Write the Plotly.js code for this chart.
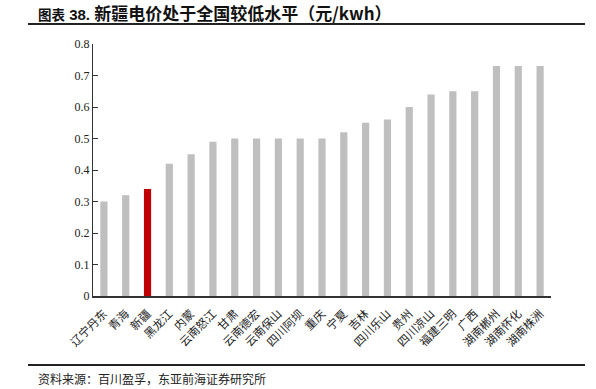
<!DOCTYPE html>
<html>
<head>
<meta charset="utf-8">
<script src="https://cdn.plot.ly/plotly-3.0.1.min.js"></script>
<style>html,body{margin:0;padding:0;background:#fff;}#chart{width:596px;height:389px;}</style>
</head>
<body>
<div id="chart"></div>
<script>
const categories = ["辽宁丹东","青海","新疆","黑龙江","内蒙","云南怒江","甘肃","云南德宏","云南保山","四川阿坝","重庆","宁夏","吉林","四川乐山","贵州","四川凉山","福建三明","广西","湖南郴州","湖南怀化","湖南株洲"];
const prices = [0.30,0.32,0.34,0.42,0.45,0.49,0.50,0.50,0.50,0.50,0.50,0.52,0.55,0.56,0.60,0.64,0.65,0.65,0.73,0.73,0.73];
const highlight = "新疆";
const yTicks = [0,0.1,0.2,0.3,0.4,0.5,0.6,0.7,0.8];
const yTickText = ["0","0.1","0.2","0.3","0.4","0.5","0.6","0.7","0.8"];
const titleText = "<b><span style='font-size:13.5px'>图表</span><span style='font-family:Liberation Sans;font-size:15px'> 38. </span>新疆电价处于全国较低水平（元/kwh）</b>";
const sourceText = "资料来源：百川盈孚，东亚前海证券研究所";

const colors = categories.map(c => c === highlight ? "#C00000" : "#BFBFBF");

const W = 596, H = 389;
const m = {l: 93, r: 45, t: 44, b: 93};
const pw = W - m.l - m.r, ph = H - m.t - m.b;
const px = x => (x - m.l) / pw;
const py = y => (H - m.b - y) / ph;

const trace = {
  type: "bar",
  x: categories,
  y: prices,
  marker: {color: colors},
  width: 0.33,
  hoverinfo: "skip"
};

const layout = {
  width: W, height: H,
  margin: m,
  paper_bgcolor: "#fff",
  plot_bgcolor: "#fff",
  showlegend: false,
  xaxis: {
    type: "category",
    showgrid: false,
    zeroline: false,
    showline: true,
    linecolor: "#333",
    linewidth: 1.5,
    ticks: "outside",
    ticklen: 5,
    tickcolor: "rgba(0,0,0,0)",
    tickangle: -45,
    tickfont: {family: "Noto Sans CJK SC", size: 11.5, color: "#222"},
    range: [-0.5, categories.length - 0.5]
  },
  yaxis: {
    range: [0, 0.8],
    tickmode: "array",
    tickvals: yTicks,
    ticktext: yTickText,
    showgrid: false,
    zeroline: false,
    showline: true,
    linecolor: "#333",
    linewidth: 1,
    ticks: "inside",
    ticklen: 5,
    tickwidth: 1,
    tickcolor: "#333",
    tickfont: {family: "Liberation Serif", size: 12, color: "#222"}
  },
  shapes: [
    {type: "line", xref: "paper", yref: "paper", x0: px(28), x1: px(585), y0: py(24), y1: py(24), line: {color: "#222", width: 2}},
    {type: "line", xref: "paper", yref: "paper", x0: px(28), x1: px(585), y0: py(365), y1: py(365), line: {color: "#222", width: 2}}
  ],
  annotations: [
    {text: titleText, xref: "paper", yref: "paper", x: px(36), y: py(12), xanchor: "left", yanchor: "middle", showarrow: false, font: {family: "Noto Sans CJK SC", size: 17, color: "#111"}},
    {text: sourceText, xref: "paper", yref: "paper", x: px(36), y: py(378), xanchor: "left", yanchor: "middle", showarrow: false, font: {family: "Noto Sans CJK SC", size: 12, color: "#222"}}
  ]
};

Plotly.newPlot("chart", [trace], layout, {displayModeBar: false, staticPlot: true});
</script>
</body>
</html>
